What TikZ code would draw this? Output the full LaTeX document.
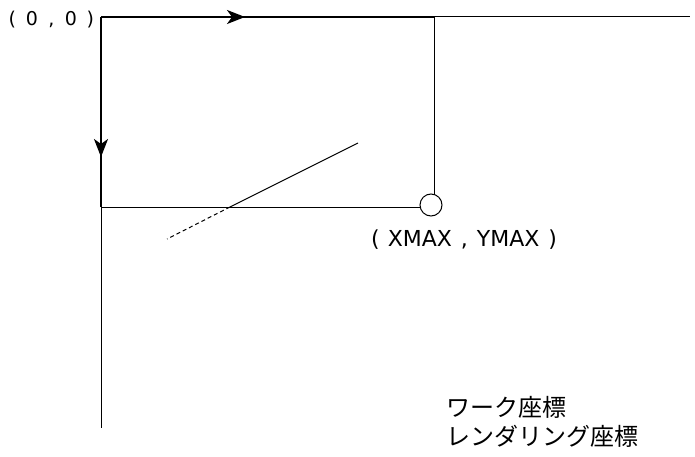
\documentclass[tikz,border=0pt]{standalone}
\usepackage{fontspec}
\setmainfont{Noto Sans CJK JP}
\newfontfamily\latinfont{DejaVu Sans}
\usetikzlibrary{arrows.meta,calc}
\newcommand{\cbox}[1]{\makebox[19.5pt]{#1}}
\tikzset{
  thinline/.style={line width=1pt, black},
  thickline/.style={line width=2pt, black},
  arr/.style={-{Stealth[length=18pt,width=14pt,inset=5pt]}},
  lbl/.style={inner sep=0pt, font=\latinfont\fontsize{22}{26}\selectfont},
  jlbl/.style={inner sep=0pt, anchor=west, align=left, font=\fontsize{24}{29}\selectfont},
}
\begin{document}
\begin{tikzpicture}[x=1pt,y=-1pt]
\useasboundingbox (0,0) rectangle (695,457);
\coordinate (O) at (101,17);
\coordinate (TR) at (690,17);
\coordinate (BL) at (101,428);
\coordinate (C) at (434,17);
\coordinate (D) at (101,207);
\coordinate (TA) at (245,17);
\coordinate (LA) at (101,157);
\coordinate (P1) at (358,143);
\coordinate (P2) at (230,207);
\coordinate (P3) at (167,239);
\node[circle, draw, line width=1pt, minimum size=22pt, inner sep=0pt] (circ) at (431,205) {};
% outer axes (thin)
\draw[thinline] (C) -- (TR);
\draw[thinline] (D) -- (BL);
% work rectangle
\draw[thickline] (O) -- (C);
\draw[thickline] (O) -- (D);
\draw[thickline, arr] (O) -- (TA);
\draw[thickline, arr] (O) -- (LA);
\draw[thinline] (C) -- (C |- circ.north);
\draw[thinline] (D) -- (D -| circ.west);
% line
\draw[thinline] (P1) -- (P2);
\draw[thinline, dash pattern=on 4pt off 3pt] (P2) -- (P3);
% labels
\node[lbl, anchor=west, font=\latinfont\fontsize{19}{22}\selectfont] (lo) at (2.5,20) {\cbox{(}\cbox{0}\cbox{,}\cbox{0}\cbox{)}};
\node[lbl, anchor=west] (lx) at (371,240) {(\hspace{8pt}XMAX\hspace{9pt},\hspace{9pt}YMAX\hspace{9pt})};
\node[jlbl] (lj) at (446,422) {ワーク座標\\レンダリング座標};
\end{tikzpicture}
\end{document}
